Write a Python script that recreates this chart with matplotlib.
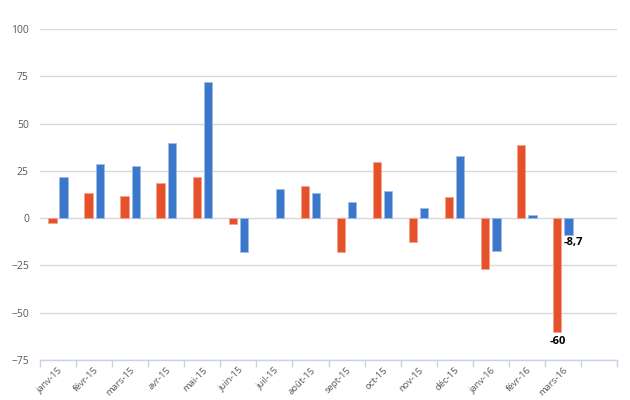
import numpy as np
import matplotlib
matplotlib.use('Agg')
import matplotlib.pyplot as plt

# données
mois = ['janv-15', 'févr-15', 'mars-15', 'avr-15', 'mai-15', 'juin-15', 'juil-15',
        'août-15', 'sept-15', 'oct-15', 'nov-15', 'déc-15', 'janv-16', 'févr-16', 'mars-16']
serie_rouge = [-2.7, 13.5, 11.8, 18.8, 21.6, -3, 0, 16.8, -18, 29.6, -12.6, 11.4, -27, 38.7, -60]
serie_bleue = [21.6, 28.8, 27.6, 39.8, 72.2, -18, 15.6, 13.5, 8.4, 14.5, 5.2, 32.6, -17.5, 1.7, -8.7]
nb_cases = 16

rouge = '#e4512b'
bleu = '#3b78cb'
gris = '#595959'

plt.rcParams['font.family'] = ['Open Sans', 'DejaVu Sans']

fig = plt.figure(figsize=(6.3, 4.0), dpi=100)
ax = fig.add_axes([40/630, 40/400, 577/630, 331/400])

x = np.arange(len(mois)) + 0.5
w = 0.23
# pas de contour quand la valeur est nulle
lw_r = [0.6 if v != 0 else 0 for v in serie_rouge]
lw_b = [0.6 if v != 0 else 0 for v in serie_bleue]
ax.bar(x - 0.155, serie_rouge, w, color=rouge, edgecolor='#f3a48f', linewidth=lw_r, zorder=3)
ax.bar(x + 0.155, serie_bleue, w, color=bleu, edgecolor='#9dbde8', linewidth=lw_b, zorder=3)

ax.set_xlim(0, nb_cases)
ax.set_ylim(-75, 100)
ax.set_yticks([-75, -50, -25, 0, 25, 50, 75, 100])
ax.grid(axis='y', color='#d9d9d9', linewidth=1, zorder=0)

# étiquettes des mois au centre, graduations entre les mois
ax.set_xticks(x)
ax.set_xticklabels(mois, rotation=45, ha='right', rotation_mode='anchor')
ax.set_xticks(np.arange(nb_cases + 1), minor=True)
ax.tick_params(axis='x', which='major', length=0, pad=4, labelsize=6.8, labelcolor=gris)
ax.tick_params(axis='x', which='minor', length=5, color='#c5d3e8', width=1)
ax.tick_params(axis='y', length=0, pad=8, labelsize=7.5, labelcolor=gris)

for s in ['top', 'right', 'left']:
    ax.spines[s].set_visible(False)
ax.spines['bottom'].set_color('#c5d3e8')
ax.spines['bottom'].set_linewidth(1)

# valeurs affichées pour le dernier mois
i = len(mois) - 1
ax.annotate('-60', (x[i] - 0.155, serie_rouge[i]), xytext=(0, -3), textcoords='offset points',
            ha='center', va='top', fontsize=8, fontweight='bold', color='black')
ax.annotate('-8,7', (x[i] + 0.155, serie_bleue[i]), xytext=(3.5, -2), textcoords='offset points',
            ha='center', va='top', fontsize=8, fontweight='bold', color='black')

fig.savefig('out.png', dpi=100)
